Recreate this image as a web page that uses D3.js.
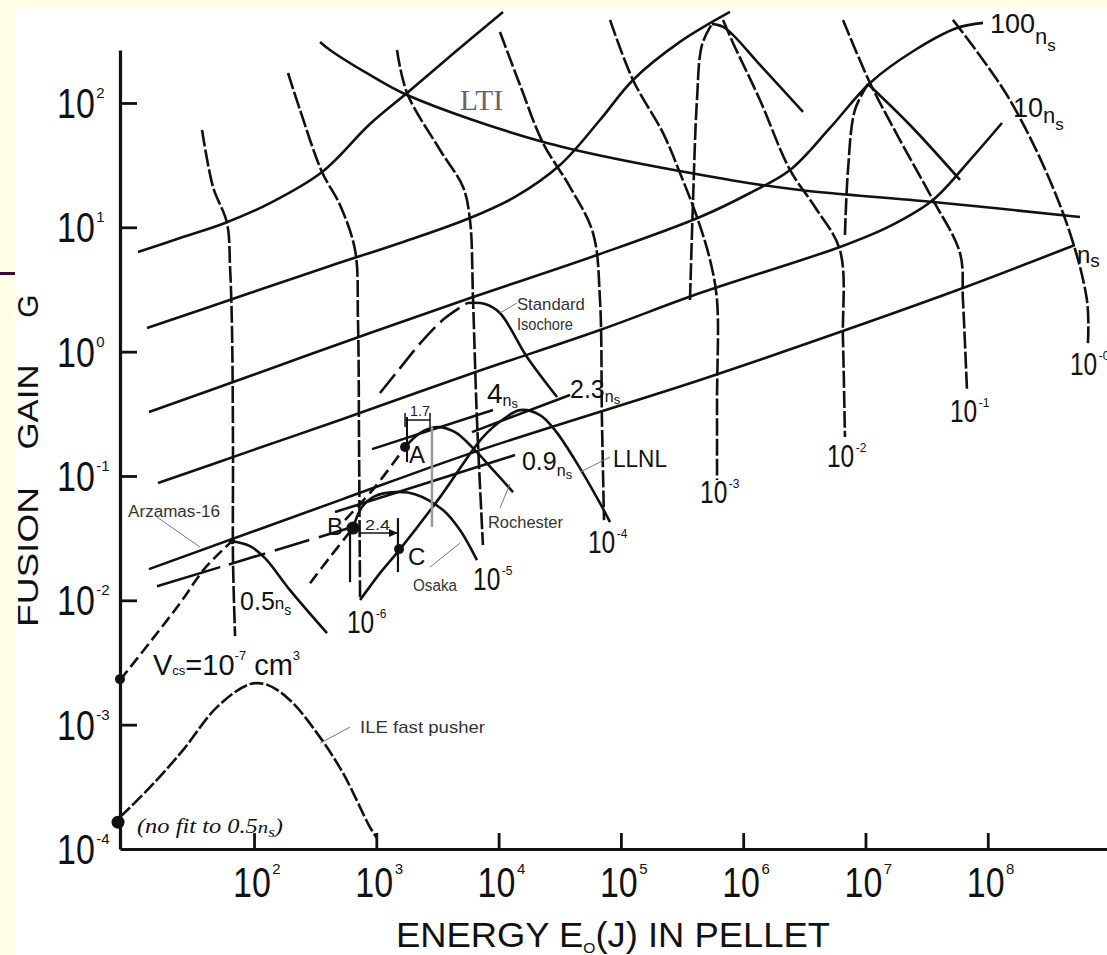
<!DOCTYPE html>
<html>
<head>
<meta charset="utf-8">
<title>Fusion gain G vs energy in pellet</title>
<script src="https://cdn.jsdelivr.net/npm/d3@7/dist/d3.min.js"></script>
<style>
    body { margin: 0; background: #fffde2; }
    svg { display: block; }
    text { font-family: "Liberation Sans", Arial, Helvetica, sans-serif; fill: #111; }
</style>
</head>
<body>
<div id="visDiv"></div>
<script>
/* Data: every point is [log10 E0 (J), log10 G] */

// tick exponents
var xTickExp = [2, 3, 4, 5, 6, 7, 8];
var yTickExp = [2, 1, 0, -1, -2, -3];
var yLabelExp = [2, 1, 0, -1, -2, -3, -4];

// compressed volume curves Vcs (dashed, nearly vertical)
var vcs7 = [[1.575,1.783],[1.665,1.324],[1.779,1.035],[1.804,0.681],[1.820,0.174],[1.828,-0.792],[1.828,-1.677],[1.845,-2.288]];
var vcs6 = [[2.278,2.241],[2.376,1.944],[2.556,1.445],[2.703,1.179],[2.826,0.817],[2.850,0.254],[2.859,-0.792],[2.867,-1.998]];
var vcs5 = [[3.169,2.426],[3.251,2.080],[3.521,1.622],[3.709,1.324],[3.766,1.059],[3.791,0.415],[3.823,-0.550],[3.872,-1.556]];
var vcs4 = [[4.011,2.571],[4.175,2.145],[4.363,1.678],[4.584,1.324],[4.772,0.954],[4.829,0.415],[4.845,-0.550],[4.862,-1.355]];
var vcs3 = [[4.911,2.668],[5.099,2.185],[5.344,1.759],[5.483,1.437],[5.622,1.083],[5.729,0.737],[5.786,0.415],[5.786,-0.389],[5.786,-1.033]];
var vcs2 = [[5.835,2.668],[5.917,2.483],[6.137,2.024],[6.383,1.461],[6.587,1.163],[6.791,0.817],[6.816,0.093],[6.832,-0.687]];
var vcs1 = [[6.816,2.668],[7.037,2.161],[7.282,1.702],[7.552,1.220],[7.773,0.793],[7.797,0.415],[7.830,-0.309]];
var vcs0 = [[7.715,2.668],[8.181,2.024],[8.615,1.115],[8.811,0.415],[8.819,0.069]];
var vcsLabels = [[2.760,-2.264,"-6"],[3.791,-1.918,"-5"],[4.731,-1.620,"-4"],[5.647,-1.218,"-3"],[6.685,-0.928,"-2"],[7.691,-0.566,"-1"],[8.672,-0.188,"-0"]];

// pulse length curves (solid, rising)
var ns0 = [[1.051,0.801],[1.395,0.914],[1.763,1.035],[2.131,1.195],[2.556,1.445],[2.948,1.831],[3.251,2.080],[3.644,2.410],[4.036,2.732]];
var ns1 = [[1.125,0.190],[1.967,0.471],[2.621,0.689],[3.194,0.874],[3.766,1.075],[4.134,1.244],[4.502,1.501],[4.829,1.863],[5.099,2.185],[5.483,2.491],[5.892,2.732]];
var ns100 = [[1.141,-0.486],[1.967,-0.196],[2.948,0.150],[3.791,0.439],[4.805,0.777],[5.647,1.083],[6.056,1.276],[6.383,1.461],[6.710,1.799],[7.037,2.161],[7.405,2.426],[7.748,2.603],[7.961,2.644]];
var ns10 = [[1.215,-1.057],[1.967,-0.800],[2.703,-0.550],[3.766,-0.180],[4.829,0.174],[5.647,0.471],[6.791,0.842],[7.200,1.010],[7.552,1.220],[7.854,1.541],[8.116,1.839]];
var ns1x = [[1.141,-1.749],[2.703,-1.194],[3.823,-0.800],[5.647,-0.228],[6.791,0.158],[7.797,0.512],[8.713,0.858]];
var nsLow = [[1.207,-1.886],[1.722,-1.733],[2.801,-1.411]];
var ns4 = [[2.965,-0.784],[3.954,-0.470]];
var ns23 = [[3.782,-0.647],[4.584,-0.349]];
var ns09 = [[2.662,-1.290],[4.134,-0.832]];

// LTI curve
var lti = [[2.540,2.491],[2.621,2.426],[2.948,2.225],[3.251,2.064],[4.396,1.678],[5.892,1.381],[6.464,1.300],[7.552,1.204],[8.754,1.083]];

// gain bells: dashed rising part, solid falling part
var arzUp = [[0.904,-2.642],[1.150,-2.336],[1.395,-2.023],[1.599,-1.741],[1.820,-1.524]];
var arzDown = [[1.820,-1.524],[1.967,-1.564],[2.090,-1.661],[2.294,-1.918],[2.597,-2.264]];
var osakaUp = [[2.458,-1.862],[2.621,-1.652],[2.809,-1.419]];
var osakaDown = [[2.809,-1.419],[2.883,-1.250],[2.989,-1.162],[3.153,-1.130],[3.316,-1.146],[3.545,-1.274],[3.684,-1.435],[3.823,-1.677]];
var rochUp = [[2.744,-1.355],[2.989,-1.089],[3.235,-0.767]];
var rochDown = [[3.235,-0.767],[3.357,-0.655],[3.496,-0.607],[3.644,-0.647],[3.791,-0.776],[3.971,-0.969],[4.118,-1.130]];
var llnl = [[2.867,-1.998],[3.030,-1.781],[3.194,-1.588],[3.521,-1.170],[3.872,-0.687],[4.052,-0.534],[4.175,-0.470],[4.338,-0.510],[4.461,-0.631],[4.625,-0.872],[4.829,-1.218],[4.911,-1.371]];
var isoUp = [[3.030,-0.333],[3.194,-0.132],[3.382,0.093],[3.562,0.270],[3.742,0.391]];
var isoDown = [[3.742,0.391],[3.889,0.383],[4.011,0.311],[4.232,-0.043],[4.478,-0.365]];
var bigUp3 = [[5.565,0.415],[5.590,1.220],[5.622,2.024],[5.663,2.467],[5.745,2.636]];
var bigDown3 = [[5.745,2.636],[5.851,2.603],[6.137,2.306],[6.489,1.928]];
var bigUp1 = [[6.832,0.938],[6.857,1.461],[6.914,1.944],[7.020,2.153]];
var bigDown1 = [[7.020,2.153],[7.364,1.823],[7.773,1.381]];
var ile = [[0.904,-3.744],[1.150,-3.503],[1.419,-3.205],[1.697,-2.859],[1.967,-2.674],[2.114,-2.682],[2.294,-2.803],[2.515,-3.068],[2.728,-3.390],[2.948,-3.825],[3.006,-3.913]];

// experiment points and bars
var pointsABC = [[3.235,-0.767],[2.809,-1.419],[3.186,-1.588]];
var lettersABC = [[3.267,-0.896,"A"],[2.597,-1.475,"B"],[3.259,-1.717,"C"]];
var axisDots = [[0.904,-2.634],[0.888,-3.784]];
var arzDot = [1.820,-1.524];
var barA = [[3.251,-0.526],[3.251,-0.888]];
var bracketA = [[3.235,-0.550],[3.439,-0.550]];
var grayBar = [[3.455,-0.607],[3.455,-1.411]];
var barB = [[2.785,-1.459],[2.785,-1.854]];
var arrowB = [[2.867,-1.459],[3.177,-1.459]];
var barC = [[3.177,-1.339],[3.177,-1.773]];

// leader lines of the small labels
var leaders = [
    [[1.207,-1.331],[1.558,-1.572]],
    [[4.011,0.311],[4.150,0.391]],
    [[4.011,-1.258],[4.093,-1.065]],
    [[4.666,-0.969],[4.911,-0.848]],
    [[3.439,-1.733],[3.684,-1.540]],
    [[2.540,-3.149],[2.785,-3.020]]
];

/* Layout */
var W = 1107, H = 955;
var svg = d3.select("#visDiv").append("svg").attr("width", W).attr("height", H);
svg.append("rect").attr("width", W).attr("height", H).attr("fill", "#fffde2");
svg.append("rect").attr("x", 15).attr("y", 8).attr("width", W - 15).attr("height", H - 8).attr("fill", "#ffffff");

/* Scales */
var x = d3.scaleLog().domain([Math.pow(10, 0.904), Math.pow(10, 8.975)]).range([120, 1107]);
var y = d3.scaleLog().domain([1e-4, Math.pow(10, 2.426)]).range([849, 50]);
function px(p) { return x(Math.pow(10, p[0])); }
function py(p) { return y(Math.pow(10, p[1])); }

var smooth = d3.line().x(px).y(py).curve(d3.curveCatmullRom.alpha(0.5));
var straight = d3.line().x(px).y(py);

function draw(pts, dash, gen, color, width) {
    svg.append("path").datum(pts)
        .attr("d", gen || smooth)
        .attr("fill", "none")
        .attr("stroke", color || "#111")
        .attr("stroke-width", width || 2.6)
        .attr("stroke-dasharray", dash || null);
}

/* Glyphs */
// Vcs family
[vcs7, vcs6, vcs5, vcs4, vcs3, vcs2, vcs1, vcs0].forEach(function (c) { draw(c, "17,3"); });

// pulse curves
draw(ns0); draw(ns1); draw(ns100); draw(ns10); draw(ns1x);
draw(nsLow, "66,9,38,10,36,10,30,8", straight);
draw(ns4, null, straight); draw(ns23, null, straight); draw(ns09, null, straight);
draw(lti);

// bells
draw(arzUp, "12,5"); draw(arzDown);
draw(osakaUp, "12,6"); draw(osakaDown);
draw(rochUp, "12,6"); draw(rochDown);
draw(llnl);
draw(isoUp, "24,7"); draw(isoDown);
draw(bigUp3, "17,3"); draw(bigDown3);
draw(bigUp1, "17,3"); draw(bigDown1);
draw(ile, "14,3");

// bars around A, B, C
draw(barA, null, straight, "#111", 2);
draw(bracketA, null, straight, "#111", 1.5);
bracketA.forEach(function (p) {
    draw([[p[0], -0.494], [p[0], -0.607]], null, straight, "#111", 1.5);
});
draw(grayBar, null, straight, "#9a9a9a", 2.5);
draw(barB, null, straight, "#111", 2.2);
draw(arrowB, null, straight, "#111", 1.5);
draw(barC, null, straight, "#111", 2.2);
var ax = px(arrowB[1]), ay = py(arrowB[1]);
svg.append("path").attr("d", "M" + ax + "," + ay + "l-9,-4v8z").attr("fill", "#111");

leaders.forEach(function (l) { draw(l, null, straight, "#777", 1); });

svg.selectAll("circle.pt").data(pointsABC).enter().append("circle")
    .attr("cx", px).attr("cy", py).attr("r", function (d, i) { return i == 1 ? 6.5 : 5; })
    .attr("fill", "#111");
svg.selectAll("circle.ax").data(axisDots).enter().append("circle")
    .attr("cx", px).attr("cy", py).attr("r", function (d, i) { return i == 1 ? 6.5 : 5; })
    .attr("fill", "#111");
svg.append("circle").attr("cx", px(arzDot)).attr("cy", py(arzDot)).attr("r", 3).attr("fill", "#111");

/* Axes */
var yAxis = d3.axisLeft(y).tickValues(yTickExp.map(function (k) { return Math.pow(10, k); }))
    .tickSize(-17).tickSizeOuter(0).tickFormat("");
var xAxis = d3.axisBottom(x).tickValues(xTickExp.map(function (k) { return Math.pow(10, k); }))
    .tickSize(-16).tickSizeOuter(0).tickFormat("");
var gy = svg.append("g").attr("transform", "translate(120,0)").call(yAxis);
var gx = svg.append("g").attr("transform", "translate(0,849)").call(xAxis);
[gx, gy].forEach(function (g) {
    g.select(".domain").attr("stroke", "#111").attr("stroke-width", 3.2);
    g.selectAll(".tick line").attr("stroke", "#111").attr("stroke-width", 2.8);
});

// "10" (tall, narrow digits) with a small exponent
function powLabel(xl, yb, sup, size, stretch, supSize, supDy) {
    svg.append("text")
        .attr("transform", "translate(" + xl + "," + yb + ") scale(1," + stretch + ")")
        .attr("font-size", size).text("10");
    svg.append("text").attr("x", xl + size * 1.112 + 1.5).attr("y", yb + supDy)
        .attr("font-size", supSize).text(sup);
}
yLabelExp.forEach(function (k) {
    powLabel(57, y(Math.pow(10, k)) + 15, String(k), 34, 1.27, 15, -20);
});
xTickExp.forEach(function (k) {
    powLabel(x(Math.pow(10, k)) - 21, 897, String(k), 34, 1.27, 15, -23);
});
vcsLabels.forEach(function (d) {
    powLabel(px(d), py(d), d[2], 24.5, 1.3, 12, -15);
});

// label with a number and a lowered "n" and "s"
function nsLabel(pos, num, numSize, nSize, nDy, sSize, sDy) {
    var t = svg.append("text").attr("x", px(pos)).attr("y", py(pos));
    if (num) t.append("tspan").attr("font-size", numSize).text(num);
    t.append("tspan").attr("font-size", nSize).attr("dy", nDy).text("n");
    t.append("tspan").attr("font-size", sSize).attr("dy", sDy).text("s");
}
nsLabel([8.018, 2.563], "100", 27, 22, 11, 17, 7);
nsLabel([8.206, 1.887], "10", 27, 22, 6, 17, 7);
nsLabel([8.729, 0.713], null, 0, 24, 0, 19, 4);
nsLabel([1.886, -2.079], "0.5", 25, 17, -1, 14, 6);
nsLabel([3.905, -0.414], "4", 28, 16, 3, 13, 2);
nsLabel([4.584, -0.373], "2.3", 25, 16, 4, 13, 2);
nsLabel([4.191, -0.953], "0.9", 25, 16, 6, 13, 3);

// Vcs = 10^-7 cm^3
var v = svg.append("text").attr("x", px([1.174, -2.602])).attr("y", py([1.174, -2.602]));
v.append("tspan").attr("font-size", 29).text("V");
v.append("tspan").attr("font-size", 13).text("cs");
v.append("tspan").attr("font-size", 29).text("=10");
v.append("tspan").attr("font-size", 13).attr("dy", -15).text("-7");
v.append("tspan").attr("font-size", 29).attr("dy", 15).text(" cm");
v.append("tspan").attr("font-size", 13).attr("dy", -15).text("3");

// (no fit to 0.5ns)
var nf = svg.append("text").attr("x", px([1.043, -3.873])).attr("y", py([1.043, -3.873]))
    .attr("textLength", 146).attr("lengthAdjust", "spacingAndGlyphs")
    .style("font-family", "'Liberation Serif', 'Times New Roman', serif").style("font-style", "italic");
nf.append("tspan").attr("font-size", 20).text("(no fit to 0.5");
nf.append("tspan").attr("font-size", 17).text("n");
nf.append("tspan").attr("font-size", 14).attr("dy", 4).text("s");
nf.append("tspan").attr("font-size", 20).attr("dy", -4).text(")");

// names of the curves
function label(pos, txt, size, len, color, family) {
    var t = svg.append("text").attr("x", px(pos)).attr("y", py(pos))
        .attr("font-size", size).text(txt).style("fill", color || "#333");
    if (len) t.attr("textLength", len).attr("lengthAdjust", "spacingAndGlyphs");
    if (family) t.style("font-family", family);
}
label([3.684, 1.944], "LTI", 30, 43, "#666", "'Liberation Serif', 'Times New Roman', serif");
label([4.150, 0.335], "Standard", 17, 68, "#333");
label([4.150, 0.174], "Isochore", 17, 56, "#333");
label([3.913, -1.419], "Rochester", 16, 75, "#333");
label([3.300, -1.926], "Osaka", 16, 44, "#333");
label([0.970, -1.331], "Arzamas-16", 16, 92, "#333");
label([2.867, -3.068], "ILE fast pusher", 17, 125, "#333");
label([4.935, -0.928], "LLNL", 23, 54, "#111");
label([3.276, -0.518], "1.7", 14, 20, "#222");
label([2.908, -1.435], "2.4", 15, 25, "#222");
lettersABC.forEach(function (d) { label(d, d[2], 24, null, "#111"); });

// axis titles
svg.append("text").attr("x", 396).attr("y", 947).attr("font-size", 35)
    .attr("textLength", 434).attr("lengthAdjust", "spacingAndGlyphs")
    .html('ENERGY E<tspan font-size="15" dy="6">O</tspan><tspan dy="-6">(J) IN PELLET</tspan>');
[["FUSION", 557, 140], ["GAIN", 407, 85], ["G", 306, null]].forEach(function (w) {
    var t = svg.append("text").attr("transform", "translate(38," + w[1] + ") rotate(-90)")
        .attr("text-anchor", "middle").attr("font-size", 30).text(w[0]);
    if (w[2]) t.attr("textLength", w[2]).attr("lengthAdjust", "spacingAndGlyphs");
});

/* page frame */
svg.append("rect").attr("width", 15).attr("height", H).attr("fill", "#fffde2");
svg.append("rect").attr("width", W).attr("height", 8).attr("fill", "#fffde2");
svg.append("rect").attr("x", 0).attr("y", 272).attr("width", 15).attr("height", 3).attr("fill", "#3d0a36");
</script>
</body>
</html>
